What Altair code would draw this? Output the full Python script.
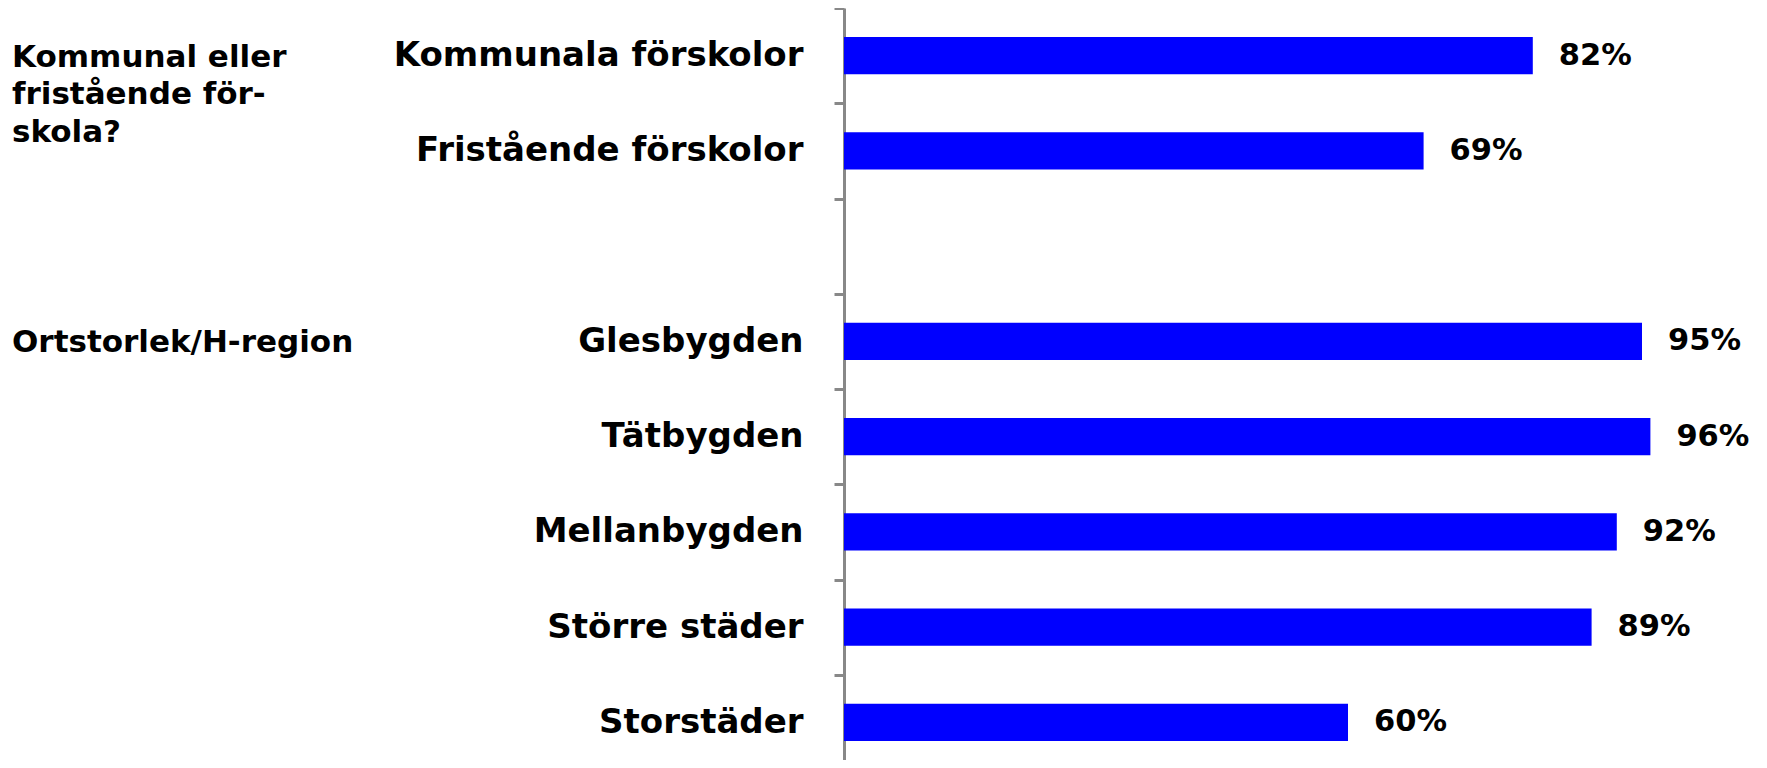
import altair as alt
import pandas as pd

# ---- data ----
categories = ["Kommunala förskolor", "Fristående förskolor", " ",
              "Glesbygden", "Tätbygden", "Mellanbygden", "Större städer", "Storstäder"]
values = [0.82, 0.69, None, 0.95, 0.96, 0.92, 0.89, 0.60]

group_labels = ["Kommunal eller\nfristående för-\nskola?", "Ortstorlek/H-region"]
group_anchor = ["Kommunala förskolor", "Glesbygden"]

bars_df = pd.DataFrame({"cat": categories, "val": values}).dropna()
groups_df = pd.DataFrame({"label": group_labels, "anchor": group_anchor})

FONT = "DejaVu Sans"
GRAY = "#888888"

yscale = alt.Scale(domain=categories, range=[0, 762], paddingInner=0, paddingOuter=0)
xscale = alt.Scale(domain=[0, 1])

y_axis = alt.Axis(
    title=None, tickBand="extent", labelFont=FONT, labelFontWeight="bold",
    labelFontSize=34, labelColor="black", labelPadding=31, labelLimit=0,
    tickSize=10, tickWidth=3, tickColor=GRAY, domainColor=GRAY, domainWidth=3,
    grid=False,
)

bars = alt.Chart(bars_df).mark_bar(color="#0000ff", height={"band": 0.39}).encode(
    x=alt.X("val:Q", scale=xscale, axis=None),
    y=alt.Y("cat:N", scale=yscale, axis=y_axis, sort=categories),
)

value_text = alt.Chart(bars_df).mark_text(
    align="left", baseline="middle", dx=26, font=FONT, fontWeight="bold",
    fontSize=30.5, color="black",
).encode(
    x=alt.X("val:Q", scale=xscale, axis=None),
    y=alt.Y("cat:N", scale=yscale, sort=categories),
    text=alt.Text("val:Q", format=".0%"),
)

group_text = alt.Chart(groups_df).mark_text(
    align="left", baseline="top", dy=-13, lineBreak="\n", lineHeight=37.5,
    font=FONT, fontWeight="bold", fontSize=31, color="black",
).encode(
    x=alt.value(-832),
    y=alt.Y("anchor:N", scale=yscale, sort=categories),
    text="label:N",
)

chart = alt.layer(bars, value_text, group_text).properties(
    width=840, height=752,
    autosize=alt.AutoSizeParams(type="none"),
    padding={"left": 836, "top": 0, "right": 75, "bottom": 0},
    background="white",
).configure_view(strokeWidth=0)

chart.save("out.html", embed_options={"renderer": "svg", "actions": False})
